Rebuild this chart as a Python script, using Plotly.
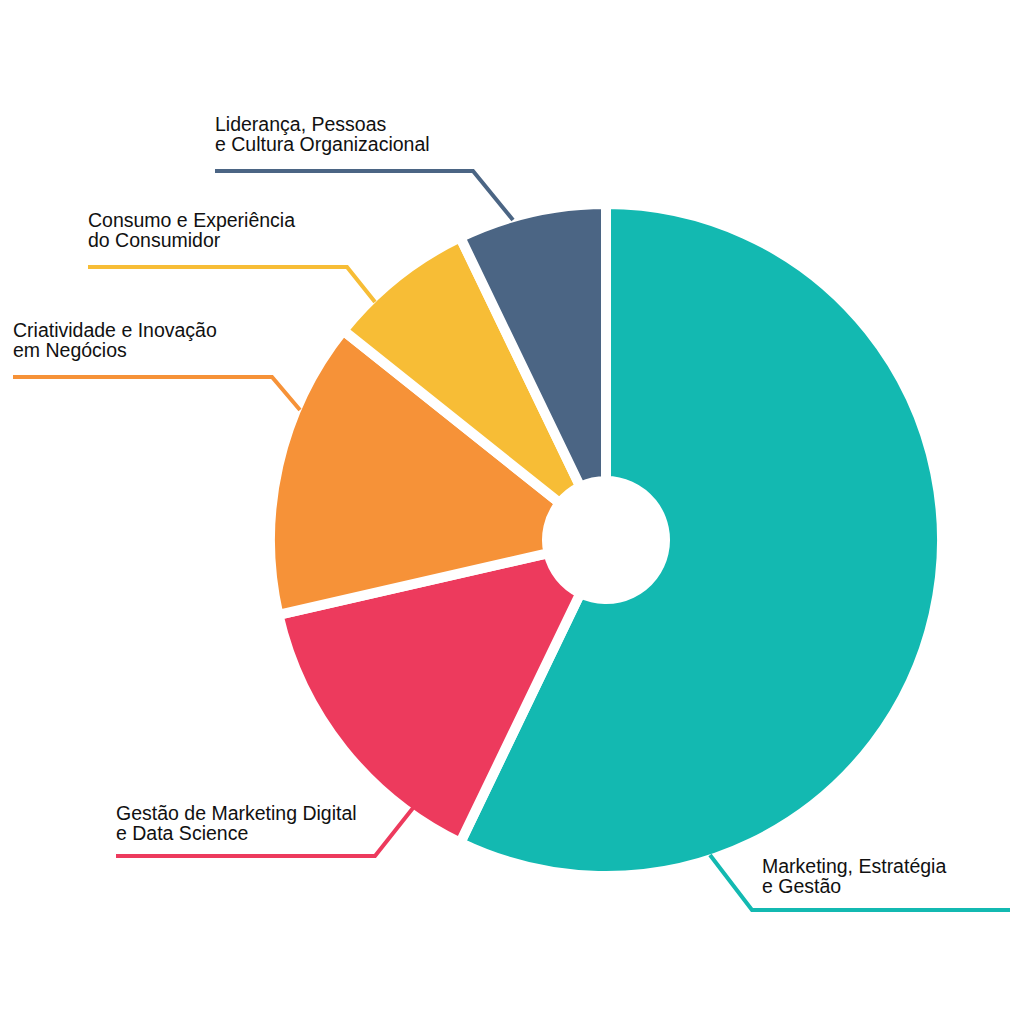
import plotly.graph_objects as go

# ---- data ----
categories = [
    "Marketing, Estratégia\ne Gestão",
    "Gestão de Marketing Digital\ne Data Science",
    "Criatividade e Inovação\nem Negócios",
    "Consumo e Experiência\ndo Consumidor",
    "Liderança, Pessoas\ne Cultura Organizacional",
]
values = [8, 2, 2, 1, 1]
colors = ["#13B9B1", "#ED3A5D", "#F69238", "#F7BD36", "#4B6584"]

# ---- layout helpers (pixel geometry of the window) ----
OFF = 8                      # page body margin
W = H = 1024 - OFF           # figure size
CX, CY, R = 606, 540, 336    # pie centre / radius in window pixels

# leader line polylines and label anchors (window pixels, y from top)
leaders = [
    dict(path=[(710, 855), (752, 910), (1010, 910)], tx=762, ty=[866, 886]),
    dict(path=[(413, 808), (375, 856), (116, 856)], tx=116, ty=[813, 833]),
    dict(path=[(300, 410), (272, 377), (13, 377)], tx=13, ty=[330, 350]),
    dict(path=[(375, 302), (347, 267), (88, 267)], tx=88, ty=[220, 240]),
    dict(path=[(513, 220), (473, 171), (215, 171)], tx=215, ty=[124, 144]),
]


def px(x):
    return (x - OFF) / W


def py(y):
    return 1 - (y - OFF) / H


fig = go.Figure(
    go.Pie(
        values=values,
        labels=[c.replace("\n", " ") for c in categories],
        marker=dict(colors=colors, line=dict(color="white", width=10)),
        hole=59 / R,
        sort=False,
        direction="clockwise",
        rotation=0,
        textinfo="none",
        hoverinfo="label+value",
        showlegend=False,
        domain=dict(x=[px(CX - R), px(CX + R)], y=[py(CY + R), py(CY - R)]),
    )
)

shapes = []
annotations = []
for cat, col, ld in zip(categories, colors, leaders):
    pts = ld["path"]
    path = "M " + " L ".join(f"{px(x):.5f},{py(y):.5f}" for x, y in pts)
    shapes.append(dict(type="path", xref="paper", yref="paper", path=path,
                       line=dict(color=col, width=4)))
    for line_text, ty in zip(cat.split("\n"), ld["ty"]):
        annotations.append(dict(
            text=line_text, xref="paper", yref="paper",
            x=px(ld["tx"] - 2), y=py(ty), xanchor="left", yanchor="middle",
            showarrow=False,
            font=dict(family="Liberation Sans, Arial, sans-serif", size=19.5, color="#111111"),
        ))

fig.update_layout(
    width=W, height=H,
    margin=dict(l=0, r=0, t=0, b=0),
    paper_bgcolor="white", plot_bgcolor="white",
    shapes=shapes, annotations=annotations,
)

fig.write_html("out.html")
